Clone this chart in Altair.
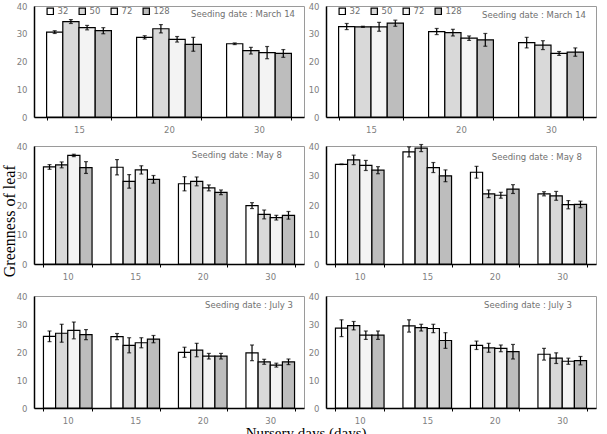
import altair as alt
import pandas as pd

series = ["32", "50", "72", "128"]
series_fill = ["#ffffff", "#d9d9d9", "#f3f3f3", "#bdbdbd"]

groups_mar = ["15", "20", "30"]
groups_may = ["10", "15", "20", "30"]
groups_jul = ["10", "15", "20", "30"]

# rows = series (32, 50, 72, 128), columns = nursery days groups
mar_left_mean = [[30.6, 28.7, 26.4], [34.4, 31.8, 23.9], [32.2, 28.0, 23.2], [31.1, 26.2, 22.9]]
mar_left_err = [[0.5, 0.6, 0.3], [0.7, 1.5, 1.2], [0.8, 1.0, 2.2], [1.1, 2.5, 1.4]]
mar_right_mean = [[32.6, 30.8, 26.8], [32.5, 30.4, 25.9], [32.5, 28.4, 22.9], [33.8, 27.8, 23.4]]
mar_right_err = [[1.1, 1.1, 1.9], [0.2, 1.2, 1.6], [1.6, 0.8, 0.7], [1.1, 2.3, 1.5]]

may_left_mean = [[32.9, 32.8, 27.2, 19.8], [33.6, 28.0, 28.0, 16.8], [36.8, 31.9, 25.8, 15.7], [32.7, 28.7, 24.3, 16.5]]
may_left_err = [[0.8, 2.6, 2.4, 1.0], [1.0, 2.3, 1.5, 1.5], [0.4, 1.4, 1.0, 0.8], [2.0, 1.3, 0.8, 1.3]]
may_right_mean = [[33.8, 38.0, 31.1, 23.8], [35.3, 39.3, 23.8, 23.1], [33.4, 32.7, 23.3, 20.1], [31.8, 29.9, 25.4, 20.2]]
may_right_err = [[0.1, 1.7, 2.0, 0.7], [1.6, 1.2, 1.3, 1.5], [1.7, 1.7, 1.0, 1.4], [1.2, 2.0, 1.5, 1.1]]

jul_left_mean = [[25.6, 25.5, 19.9, 19.7], [26.7, 22.4, 20.7, 16.5], [27.7, 23.3, 18.5, 15.3], [26.2, 24.6, 18.5, 16.5]]
jul_left_err = [[1.9, 1.1, 1.8, 2.8], [3.2, 2.7, 2.4, 0.9], [3.0, 1.8, 1.0, 0.7], [1.8, 1.3, 1.0, 1.0]]
jul_right_mean = [[28.5, 29.3, 22.4, 19.2], [29.4, 28.7, 21.5, 17.8], [26.0, 28.4, 21.3, 16.7], [26.0, 24.1, 20.1, 16.9]]
jul_right_err = [[3.0, 2.2, 1.5, 2.1], [1.5, 1.2, 1.6, 1.9], [1.5, 1.5, 1.2, 1.1], [1.5, 2.8, 2.6, 1.5]]

y_ticks = [0, 10, 20, 30, 40]
W = 270
LABEL_GRAY = "#808080"


def panel(groups, means, errs, label, h, show_legend, tx_inset, ty):
    rows = []
    for si, s in enumerate(series):
        for gi, g in enumerate(groups):
            rows.append({"group": g, "series": s, "mean": means[si][gi], "err": errs[si][gi]})
    df = pd.DataFrame(rows)
    base = alt.Chart(df).transform_calculate(
        lo="datum.mean - datum.err", hi="datum.mean + datum.err"
    )
    x = alt.X(
        "group:N", sort=groups,
        scale=alt.Scale(paddingInner=0.28, paddingOuter=0.14),
        axis=alt.Axis(title=None, labelAngle=0, tickBand="extent", tickSize=3,
                      tickColor="black", domainColor="black", domainWidth=1.5,
                      labelColor=LABEL_GRAY, labelFontSize=8.5, labelPadding=5,
                      labelFont="DejaVu Sans"),
    )
    xo = alt.XOffset("series:N", sort=series,
                     scale=alt.Scale(domain=series, paddingInner=0, paddingOuter=0))
    y_axis = alt.Axis(title=None, values=y_ticks, grid=False, ticks=False,
                      domainColor="black", domainWidth=1.5, labelColor=LABEL_GRAY,
                      labelFontSize=8.5, labelPadding=7, labelFont="DejaVu Sans")
    yscale = alt.Scale(domain=[0, 40], nice=False)
    if show_legend:
        legend = alt.Legend(
            title=None, orient="none", legendX=12, legendY=1, direction="horizontal",
            symbolType="square", symbolSize=40, symbolStrokeColor="black",
            symbolStrokeWidth=1.2, labelColor="#707070", labelFontSize=8.5,
            labelFont="DejaVu Sans", columnPadding=7, labelOffset=3,
        )
    else:
        legend = None
    bars = base.mark_bar(stroke="black", strokeWidth=1.2).encode(
        x=x, xOffset=xo,
        y=alt.Y("mean:Q", scale=yscale, axis=y_axis),
        fill=alt.Fill("series:N", sort=series,
                      scale=alt.Scale(domain=series, range=series_fill), legend=legend),
    )
    rule = base.mark_rule(color="black", strokeWidth=1.2).encode(
        x=x, xOffset=xo, y=alt.Y("lo:Q", scale=yscale, axis=y_axis), y2="hi:Q"
    )
    cap_lo = base.mark_tick(color="black", size=4, thickness=1.2).encode(
        x=x, xOffset=xo, y=alt.Y("lo:Q", scale=yscale, axis=y_axis)
    )
    cap_hi = base.mark_tick(color="black", size=4, thickness=1.2).encode(
        x=x, xOffset=xo, y=alt.Y("hi:Q", scale=yscale, axis=y_axis)
    )
    txt = alt.Chart(pd.DataFrame({"t": [label]})).mark_text(
        align="right", baseline="middle", fontSize=8.5, color="#707070",
        font="DejaVu Sans"
    ).encode(x=alt.value(W - tx_inset), y=alt.value(ty), text="t:N")
    return alt.layer(bars, rule, cap_lo, cap_hi, txt).properties(width=W, height=h)


p1 = panel(groups_mar, mar_left_mean, mar_left_err, "Seeding date : March 14", 111, True, 9, 8)
p2 = panel(groups_mar, mar_right_mean, mar_right_err, "Seeding date : March 14", 111, True, 10, 9)
p3 = panel(groups_may, may_left_mean, may_left_err, "Seeding date : May 8", 118, False, 22, 9)
p4 = panel(groups_may, may_right_mean, may_right_err, "Seeding date : May 8", 118, False, 14, 11)
p5 = panel(groups_jul, jul_left_mean, jul_left_err, "Seeding date : July 3", 112, False, 11, 9)
p6 = panel(groups_jul, jul_right_mean, jul_right_err, "Seeding date : July 3", 112, False, 24, 9)


def row(a, b, title=None):
    kw = {}
    if title is not None:
        kw["title"] = title
    return alt.hconcat(a, b, spacing=2, **kw).resolve_scale(
        x="independent", xOffset="independent", fill="independent"
    ).resolve_legend(fill="independent")


r1 = row(p1, p2)
r2 = row(p3, p4)
r3 = row(p5, p6, alt.TitleParams("Nursery days (days)", orient="bottom", anchor="middle",
                                  font="Liberation Serif", fontSize=15, fontWeight="normal",
                                  offset=1, color="black"))

top_rows = alt.vconcat(r1, r2, spacing=7).resolve_scale(
    x="independent", xOffset="independent", fill="independent"
).resolve_legend(fill="independent")

chart = alt.vconcat(
    top_rows, r3, spacing=10,
    title=alt.TitleParams("Greenness of leaf", orient="left", anchor="middle",
                          font="Liberation Serif", fontSize=16, fontWeight="normal",
                          offset=-2, color="black"),
).resolve_scale(
    x="independent", xOffset="independent", fill="independent"
).resolve_legend(fill="independent").properties(
    padding={"left": 1, "top": 1, "right": 0, "bottom": 0}
).configure_view(stroke="#9a9a9a", strokeWidth=1)

chart.save("out.html", embed_options={"renderer": "svg", "actions": False})
